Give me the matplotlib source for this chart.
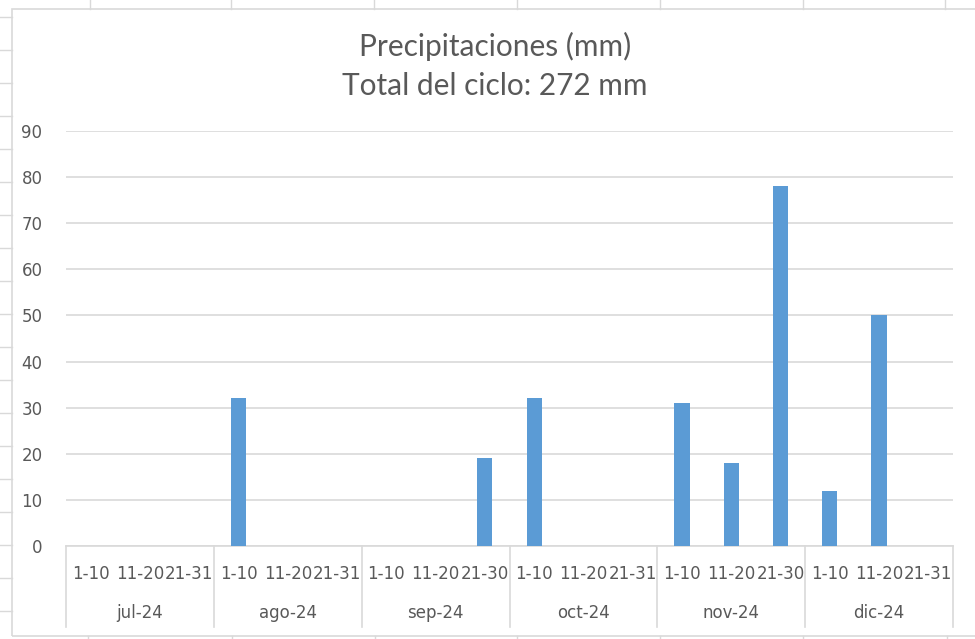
import numpy as np
import matplotlib
matplotlib.use("Agg")
import matplotlib.pyplot as plt
from matplotlib.lines import Line2D
from matplotlib.patches import Rectangle

# data
months = ["jul-24", "ago-24", "sep-24", "oct-24", "nov-24", "dic-24"]
decades = [["1-10", "11-20", "21-31"],
           ["1-10", "11-20", "21-31"],
           ["1-10", "11-20", "21-30"],
           ["1-10", "11-20", "21-31"],
           ["1-10", "11-20", "21-30"],
           ["1-10", "11-20", "21-31"]]
rain = [0, 0, 0,
        32, 0, 0,
        0, 0, 19,
        32, 0, 0,
        31, 18, 78,
        12, 50, 0]

grey_text = "#595959"
grid_col = "#d9d9d9"
bar_col = "#5b9bd5"

W, H = 975, 639
fig = plt.figure(figsize=(W / 100, H / 100), dpi=100)
plt.rcParams["font.family"] = ["DejaVu Sans"]

# spreadsheet cells behind the chart
for x in [90, 231, 374, 517, 660, 803, 945]:
    fig.add_artist(Line2D([x / W, x / W], [1, 1 - 9 / H], color=grid_col, lw=1))
for x in [88, 232, 375, 517, 660, 803, 947]:
    fig.add_artist(Line2D([x / W, x / W], [0, 3 / H], color=grid_col, lw=1))
for y in range(17, 630, 33):
    fig.add_artist(Line2D([0, 12 / W], [1 - y / H, 1 - y / H], color=grid_col, lw=1))

# chart border
fig.add_artist(Rectangle((12 / W, 3 / H), 1.0, 1 - 12 / H, transform=fig.transFigure,
                         fill=False, edgecolor=grid_col, lw=1.2))

left, right, top, bottom = 66, 953, 131, 546
ax = fig.add_axes([left / W, 1 - bottom / H, (right - left) / W, (bottom - top) / H])

labels = [d for grp in decades for d in grp]
x = np.arange(len(rain))
ax.bar(x, rain, width=0.31, color=bar_col, zorder=3)

ax.set_xlim(-0.5, len(rain) - 0.5)
ax.set_ylim(0, 90)
ax.set_yticks(np.arange(0, 91, 10))
ax.yaxis.grid(True, color=grid_col, lw=1.2)
ax.tick_params(axis="y", length=0, pad=17, labelsize=12, labelcolor=grey_text)
ax.set_xticks(x)
ax.set_xticklabels(labels)
ax.tick_params(axis="x", length=0, pad=14, labelsize=12, labelcolor=grey_text)
for s in ["top", "right", "left"]:
    ax.spines[s].set_visible(False)
ax.spines["bottom"].set_color(grid_col)
ax.spines["bottom"].set_linewidth(1.2)

ah = bottom - top
trans = ax.get_xaxis_transform()
for i in range(len(months) + 1):
    xb = i * 3 - 0.5
    ax.plot([xb, xb], [0, -(627 - bottom) / ah], transform=trans, color=grid_col,
            lw=1.2, clip_on=False)
for i, m in enumerate(months):
    ax.text(i * 3 + 1, -(613 - bottom) / ah, m, transform=trans, ha="center",
            va="center", fontsize=12, color=grey_text)

fig.text(495 / W, 1 - 46 / H, "Precipitaciones (mm)", ha="center", va="center",
         fontsize=21.5, color=grey_text, family="Lato")
fig.text(495 / W, 1 - 86 / H, "Total del ciclo: 272 mm", ha="center", va="center",
         fontsize=21.5, color=grey_text, family="Lato")

fig.savefig("out.png", dpi=100)
